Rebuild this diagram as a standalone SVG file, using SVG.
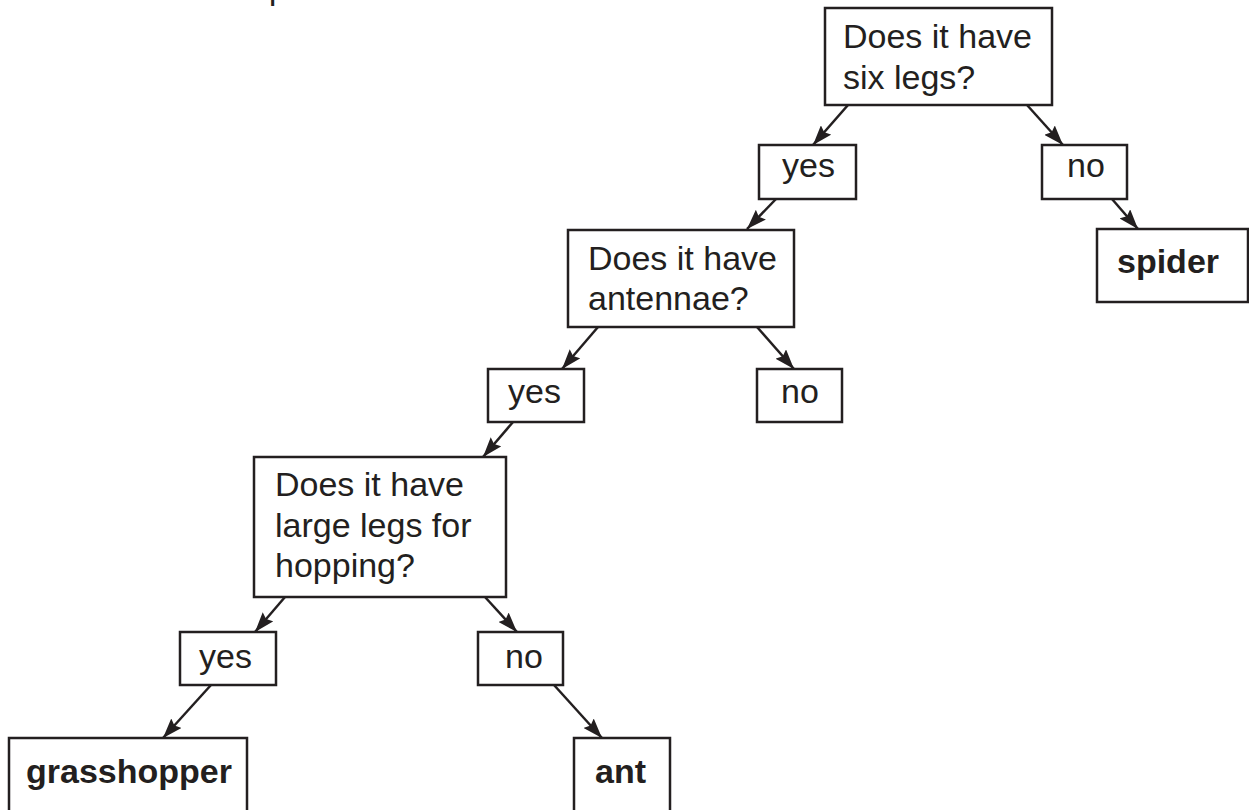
<svg xmlns="http://www.w3.org/2000/svg" width="1249" height="810" viewBox="0 0 1249 810">
<defs>
<style>
.box{fill:#ffffff;stroke:#231f20;stroke-width:2.5}
.t{font-family:"Liberation Sans",Arial,sans-serif;font-size:34px;fill:#231f20}
.b{font-weight:bold}
.c{stroke:#231f20;stroke-width:2.5;fill:none;marker-end:url(#ah)}
</style>
<marker id="ah" viewBox="0 0 20 14" refX="20" refY="7" markerWidth="20" markerHeight="14" markerUnits="userSpaceOnUse" orient="auto">
<path d="M0,0 L20,7 L0,14 L3,7 Z" fill="#231f20"/>
</marker>
</defs>
<rect width="1249" height="810" fill="#ffffff"/>
<text class="t" x="42" y="-1">Answer these questions</text>
<g id="connectors">
<line class="c" x1="848" y1="105" x2="813" y2="145"/>
<line class="c" x1="1027" y1="105" x2="1063" y2="145"/>
<line class="c" x1="776" y1="199" x2="747" y2="229"/>
<line class="c" x1="1112" y1="199" x2="1138" y2="229"/>
<line class="c" x1="598" y1="327" x2="562" y2="369"/>
<line class="c" x1="757" y1="327" x2="794" y2="369"/>
<line class="c" x1="513" y1="422" x2="483" y2="457"/>
<line class="c" x1="285" y1="597" x2="255" y2="632"/>
<line class="c" x1="485" y1="597" x2="517" y2="632"/>
<line class="c" x1="211" y1="685" x2="163" y2="738"/>
<line class="c" x1="554" y1="685" x2="602" y2="738"/>
</g>
<g id="q-six-legs">
<rect class="box" x="825" y="8" width="227" height="97"/>
<text class="t" x="843" y="48">Does it have</text>
<text class="t" x="843" y="89">six legs?</text>
</g>
<g id="yes1">
<rect class="box" x="759" y="145" width="97" height="54"/>
<text class="t" x="782" y="177">yes</text>
</g>
<g id="no1">
<rect class="box" x="1042" y="145" width="85" height="54"/>
<text class="t" x="1067" y="177">no</text>
</g>
<g id="spider">
<rect class="box" x="1097" y="229" width="151" height="73"/>
<text class="t b" x="1117" y="273">spider</text>
</g>
<g id="q-antennae">
<rect class="box" x="568" y="230" width="226" height="97"/>
<text class="t" x="588" y="270">Does it have</text>
<text class="t" x="588" y="310">antennae?</text>
</g>
<g id="yes2">
<rect class="box" x="488" y="369" width="96" height="53"/>
<text class="t" x="508" y="403">yes</text>
</g>
<g id="no2">
<rect class="box" x="757" y="369" width="85" height="53"/>
<text class="t" x="781" y="403">no</text>
</g>
<g id="q-hopping">
<rect class="box" x="254" y="457" width="252" height="140"/>
<text class="t" x="275" y="496">Does it have</text>
<text class="t" x="275" y="537">large legs for</text>
<text class="t" x="275" y="577">hopping?</text>
</g>
<g id="yes3">
<rect class="box" x="180" y="632" width="96" height="53"/>
<text class="t" x="199" y="668">yes</text>
</g>
<g id="no3">
<rect class="box" x="478" y="632" width="85" height="53"/>
<text class="t" x="505" y="668">no</text>
</g>
<g id="grasshopper">
<rect class="box" x="9" y="738" width="238" height="80"/>
<text class="t b" x="26" y="783">grasshopper</text>
</g>
<g id="ant">
<rect class="box" x="574" y="738" width="96" height="80"/>
<text class="t b" x="595" y="783">ant</text>
</g>
</svg>
